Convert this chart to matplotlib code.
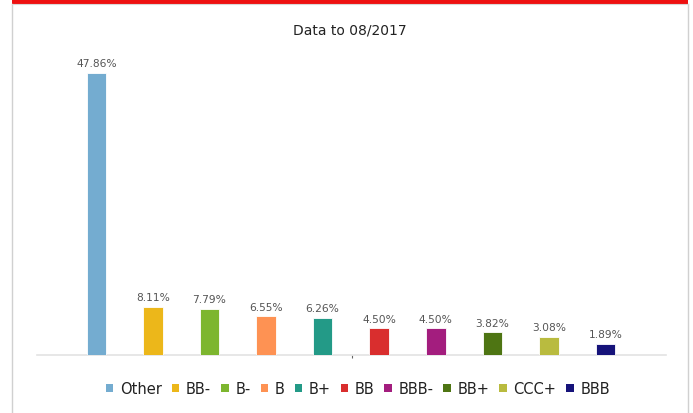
import matplotlib
matplotlib.use("Agg")
import matplotlib.pyplot as plt
from matplotlib.patches import Rectangle, Patch
from matplotlib.lines import Line2D

categories = ["Other", "BB-", "B-", "B", "B+", "BB", "BBB-", "BB+", "CCC+", "BBB"]
values = [47.86, 8.11, 7.79, 6.55, 6.26, 4.50, 4.50, 3.82, 3.08, 1.89]
labels = ["47.86%", "8.11%", "7.79%", "6.55%", "6.26%", "4.50%", "4.50%", "3.82%", "3.08%", "1.89%"]
colors = ["#74acd0", "#ecb71a", "#7db62f", "#fe9253", "#239a87",
          "#d92e2e", "#a31d7e", "#4e7513", "#b9bb3f", "#16137a"]
title = "Data to 08/2017"

W, H = 693, 414
fig = plt.figure(figsize=(W / 100, H / 100), dpi=100)
fig.patch.set_facecolor("white")

def fx(px):
    return px / W

def fy(py):
    return 1 - py / H

# panel decoration: red band and light gray borders
fig.add_artist(Rectangle((fx(12), fy(4.5)), fx(688) - fx(12), 4.5 / H,
                         transform=fig.transFigure, color="#ee1111", lw=0))
fig.add_artist(Line2D([fx(12.5), fx(12.5)], [fy(4.5), 0], transform=fig.transFigure,
                      color="#d0d0d0", lw=1.0))
fig.add_artist(Line2D([fx(688), fx(688)], [fy(4.5), 0], transform=fig.transFigure,
                      color="#d0d0d0", lw=1.0))
fig.add_artist(Line2D([fx(12.5), fx(688)], [fy(5), fy(5)], transform=fig.transFigure,
                      color="#d8d8d8", lw=0.8))

ax_left, ax_right = 37, 666
ax_top, ax_bot = 60, 356
ax = fig.add_axes([fx(ax_left), fy(ax_bot), (ax_right - ax_left) / W, (ax_bot - ax_top) / H])
ax.set_facecolor("none")

x = list(range(len(categories)))
bars = ax.bar(x, values, width=0.345, color=colors, edgecolor="white", linewidth=0.6, zorder=3)
for xi, v, lab in zip(x, values, labels):
    ax.annotate(lab, (xi, v), xytext=(0, 3.5), textcoords="offset points",
                ha="center", va="bottom", fontsize=7.7, color="#555555")

xl = (-1.05, 10.07)
ax.set_xlim(*xl)
ax.set_ylim(0, 50.24)
for s in ["top", "right", "left"]:
    ax.spines[s].set_visible(False)
ax.spines["bottom"].set_color("#e3e3e3")
ax.spines["bottom"].set_linewidth(1.2)
ax.set_yticks([])
ax.set_xticks([(xl[0] + xl[1]) / 2])
ax.set_xticklabels([""])
ax.tick_params(axis="x", length=2.5, width=0.8, color="#666666", direction="out")

fig.text(fx(350), fy(30), title, ha="center", va="center", fontsize=10, color="#222222")

handles = [Patch(facecolor=c, edgecolor="none") for c in colors]
leg = fig.legend(handles, categories, loc="center", bbox_to_anchor=(fx(358), fy(390)),
                 ncol=len(categories), frameon=False, fontsize=10.5,
                 handlelength=0.5, handleheight=0.5, handletextpad=0.45,
                 columnspacing=0.7, borderaxespad=0)
for t in leg.get_texts():
    t.set_color("#222222")

fig.savefig("out.png", dpi=100)
